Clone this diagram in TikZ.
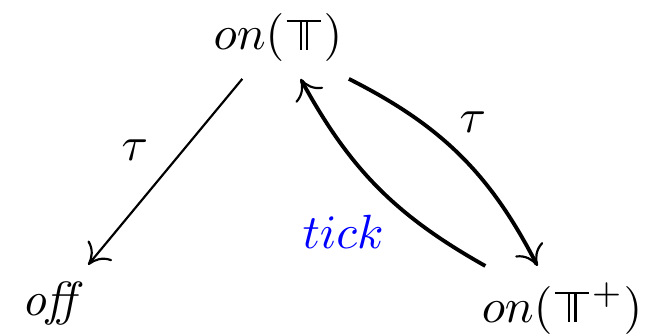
\documentclass[tikz,border=0pt]{standalone}
\usepackage{amsmath}
\usetikzlibrary{arrows.meta}
% double-struck T drawn from rules
\newcommand{\dsT}{\mathord{\hbox{\kern0.5pt\rlap{\raisebox{5.8pt}{\rule{7.2pt}{0.5pt}}}%
  \kern2.675pt\rule{0.5pt}{6.3pt}\kern0.85pt\rule{0.5pt}{6.3pt}\kern2.675pt\kern0.5pt}}}

\begin{document}
\begin{tikzpicture}[x=1pt,y=1pt,
      state/.style={inner sep=3.33pt,anchor=base},
      trans/.style={line width=.45pt,-{To[length=4pt,width=6.5pt,line width=.45pt]}},
      curved/.style={trans,line width=.8pt},
      lab/.style={inner sep=1pt}
    ]
    \useasboundingbox (0,0) rectangle (135,69.6);

    \node[state] (on) at (57.9,59.2) {$on(\dsT)$};
    \node[state] (off) at (11.2,3.96) {$\mathit{off}$};
    \node[state] (onp) at (117.1,2.5) {$on(\dsT^+)$};

    \draw[trans] (on.-131) -- (off.48);
    \draw[curved] (on.-30) to[bend left=18] (onp.120);
    \draw[curved] (onp.151) to[bend left=16] (on.-61);

    \node[lab] (tau1) at (28.1,38.3) {$\tau$};
    \node[lab] (tau2) at (98.5,44.2) {$\tau$};
    \node[lab,text=blue] (tick) at (71.5,21.25) {$tick$};
  \end{tikzpicture}
\end{document}
